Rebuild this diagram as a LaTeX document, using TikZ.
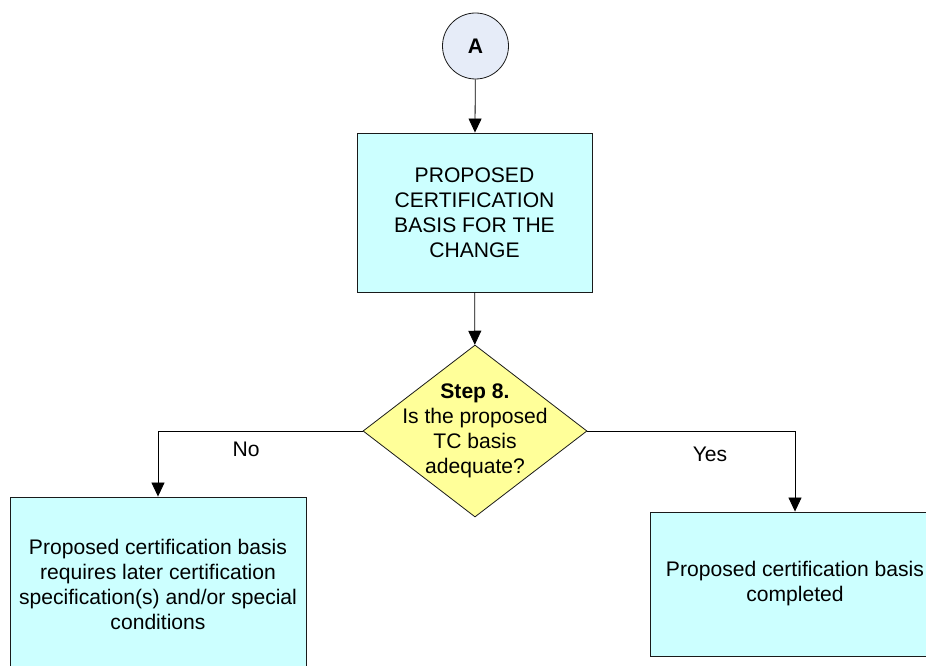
\documentclass[tikz,border=0pt]{standalone}
\usepackage{fontspec}
\setmainfont{Liberation Sans}
\usetikzlibrary{shapes.geometric,arrows.meta}
\definecolor{boxfill}{HTML}{CCFFFF}
\definecolor{circfill}{HTML}{E6ECF8}
\definecolor{diafill}{HTML}{FFFF99}
\definecolor{edge}{HTML}{1A1A1A}
\begin{document}
\begin{tikzpicture}[x=1pt,y=-1pt,
  every node/.style={font=\fontsize{21.1}{25}\selectfont, text=black},
  procbox/.style={draw=edge, line width=0.9pt, fill=boxfill, rectangle, inner sep=0pt, align=center},
  decision/.style={draw=edge, line width=0.8pt, fill=diafill, diamond, inner sep=0pt},
  connector/.style={draw=edge, line width=0.8pt, fill=circfill, circle, inner sep=0pt},
  flow/.style={draw=black, line width=0.8pt, -{Triangle[length=14pt,width=13pt]}},
  lbl/.style={inner sep=0pt}
]
\useasboundingbox (0,0) rectangle (926,666);
\node[connector, minimum size=66pt] (a) at (475.5,46) {\textbf{A}};
\node[procbox, minimum width=235pt, minimum height=159pt] (b) at (474.5,212.5)
  {PROPOSED\\CERTIFICATION\\BASIS FOR THE\\CHANGE};
\node[decision, minimum width=224pt, minimum height=172pt] (d) at (475,431) {};
\node[lbl, align=center] (dt) at (475,431)
  {\textbf{Step 8.}\\Is the proposed\\TC basis\\adequate?};
\node[procbox, minimum width=296pt, minimum height=174pt] (l) at (158,584)
  {Proposed certification basis\\requires later certification\\specification(s) and/or special\\conditions};
\node[procbox, minimum width=290pt, minimum height=144pt] (r) at (795,584)
  {Proposed certification basis\\completed};
\node[lbl] (no) at (246,449) {No};
\node[lbl] (yes) at (710,454) {Yes};
\draw[flow] (a) -- (b);
\draw[flow] (b) -- (d);
\draw[flow] (d.west) -| (l.north);
\draw[flow] (d.east) -| (r.north);
\end{tikzpicture}
\end{document}
